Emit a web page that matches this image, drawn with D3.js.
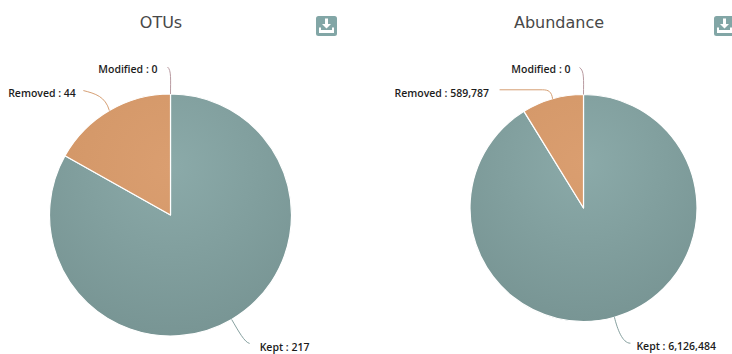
<!DOCTYPE html>
<html>
<head>
<meta charset="utf-8">
<script src="https://cdn.jsdelivr.net/npm/d3@7"></script>
<style>
  html, body { margin: 0; padding: 0; background: #fff; overflow: hidden; }
  svg { display: block; }
  .title { font-family: "DejaVu Sans", sans-serif; font-size: 16px; fill: #484848; }
  .label { font-family: "Open Sans", sans-serif; font-size: 10.5px; font-weight: 600; fill: #1c1c1c; }
</style>
</head>
<body>
<svg id="chart" width="732" height="354"></svg>
<script>
var categories = ["Kept", "Removed", "Modified"];
var otuValues = [217, 44, 0];
var abundanceValues = [6126484, 589787, 0];
var chartTitles = ["OTUs", "Abundance"];

var colors = { Kept: ["#8baaa9", "#789594"], Removed: ["#da9e70", "#d09464"], Modified: ["#b08f95", "#b08f95"] };

var svg = d3.select("#chart");
var defs = svg.append("defs");
var format = d3.format(",");

// where each label goes relative to its slice edge, and the connector shape
var pies = [
    { id: "otu", values: otuValues, title: chartTitles[0], cx: 170.5, cy: 215, r: 121, titleX: 161, iconX: 316,
      offsets: {
        Kept:     { dx: 18, dy: 24, lx: 28, ly: 27.5, anchor: "start", c1: [7, 12], c2: [13, 23], run: 0 },
        Removed:  { dx: -26, dy: -20, lx: -33.5, ly: -17, anchor: "end", c1: [-4, -14], c2: [-14, -17], run: 0 },
        Modified: { dx: -3, dy: -27, lx: -13, ly: -25, anchor: "end", c1: [0, -14], c2: [1, -24], run: 0 }
      } },
    { id: "abundance", values: abundanceValues, title: chartTitles[1], cx: 583.5, cy: 208, r: 113.5, titleX: 559, iconX: 714,
      offsets: {
        Kept:     { dx: 16, dy: 26, lx: 22, ly: 29, anchor: "start", c1: [3, 12], c2: [8, 26], run: 0 },
        Removed:  { dx: -10, dy: -9, lx: -63.5, ly: -5.5, anchor: "end", c1: [-1, -7], c2: [-4, -9], run: -43 },
        Modified: { dx: -4, dy: -27, lx: -13, ly: -25, anchor: "end", c1: [0, -14], c2: [1, -24], run: 0 }
      } }
];

function drawPie(p) {
    var data = categories.map(function (c, i) { return { name: c, value: p.values[i] }; });
    var arcs = d3.pie().sort(null).value(function (d) { return d.value; })(data);
    var arc = d3.arc().innerRadius(0).outerRadius(p.r);

    var g = svg.append("g").attr("transform", "translate(" + p.cx + "," + p.cy + ")");

    // light spot sits above the pie centre, fades out toward the bottom
    categories.forEach(function (c) {
        var grad = defs.append("radialGradient")
            .attr("id", p.id + c)
            .attr("gradientUnits", "userSpaceOnUse")
            .attr("cx", 0).attr("cy", -0.4 * p.r).attr("r", 1.4 * p.r);
        grad.append("stop").attr("offset", "0%").attr("stop-color", colors[c][0]);
        grad.append("stop").attr("offset", "100%").attr("stop-color", colors[c][1]);
    });

    g.selectAll("path.slice")
        .data(arcs.filter(function (d) { return d.value > 0; }))
        .enter()
        .append("path")
        .attr("class", "slice")
        .attr("d", arc)
        .attr("fill", function (d) { return "url(#" + p.id + d.data.name + ")"; })
        .attr("stroke", "#fff")
        .attr("stroke-width", 1.2)
        .attr("stroke-linejoin", "round");

    arcs.forEach(function (d) {
        var mid = (d.startAngle + d.endAngle) / 2;
        var x = p.r * Math.sin(mid);
        var y = -p.r * Math.cos(mid);
        var o = p.offsets[d.data.name];
        var line = d3.path();
        line.moveTo(x, y);
        line.bezierCurveTo(x + o.c1[0], y + o.c1[1], x + o.c2[0], y + o.c2[1], x + o.dx, y + o.dy);
        if (o.run) line.lineTo(x + o.dx + o.run, y + o.dy);
        g.append("path")
            .attr("d", line.toString())
            .attr("fill", "none")
            .attr("stroke", colors[d.data.name][1])
            .attr("stroke-width", 0.9);
        g.append("text")
            .attr("class", "label")
            .attr("x", x + o.lx)
            .attr("y", y + o.ly)
            .attr("dy", "0.35em")
            .attr("text-anchor", o.anchor)
            .text(d.data.name + " : " + format(d.value));
    });

    svg.append("text")
        .attr("class", "title")
        .attr("x", p.titleX)
        .attr("y", 28)
        .attr("text-anchor", "middle")
        .text(p.title);

    // download button
    var icon = svg.append("g").attr("transform", "translate(" + p.iconX + ",16)");
    icon.append("rect").attr("width", 21).attr("height", 20).attr("rx", 2.5).attr("fill", "#82a6a6");
    icon.append("path").attr("d", "M9 2.5H12V8H15L10.5 12.5L6 8H9Z").attr("fill", "#fff");
    icon.append("path").attr("d", "M3 11.5H5V14H16V11.5H18V17H3Z").attr("fill", "#fff");
}

pies.forEach(drawPie);
</script>
</body>
</html>
